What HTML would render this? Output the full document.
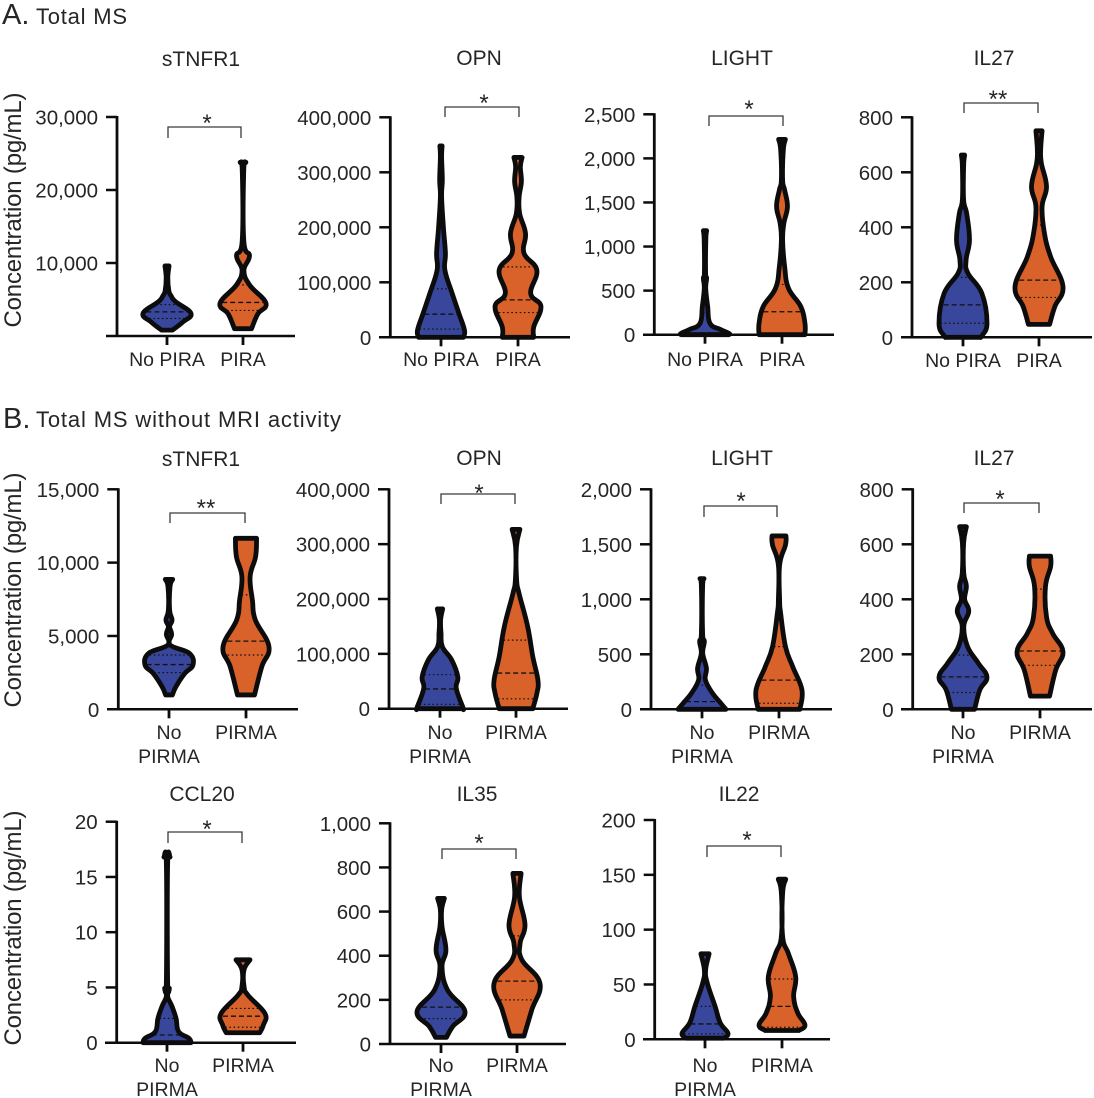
<!DOCTYPE html>
<html lang="en">
<head>
<meta charset="utf-8">
<title>Violin plots of serum biomarkers in total MS</title>
<style>
html,body{margin:0;padding:0;background:#fff;}
svg{display:block;font-family:"Liberation Sans",sans-serif;fill:#262626;}
</style>
</head>
<body>
<svg id="figure" width="1094" height="1098" viewBox="0 0 1094 1098" xmlns="http://www.w3.org/2000/svg">
  <rect width="1094" height="1098" fill="#fff"/>
  <text x="2" y="24" font-size="29">A.</text>
  <text x="36" y="24" font-size="22" textLength="91">Total MS</text>
  <text x="3" y="428" font-size="29">B.</text>
  <text x="36" y="427" font-size="22" textLength="305">Total MS without MRI activity</text>
  <text transform="translate(21,210) rotate(-90)" text-anchor="middle" font-size="24" textLength="235">Concentration (pg/mL)</text>
  <text transform="translate(21,590) rotate(-90)" text-anchor="middle" font-size="24" textLength="235">Concentration (pg/mL)</text>
  <text transform="translate(21,928) rotate(-90)" text-anchor="middle" font-size="24" textLength="235">Concentration (pg/mL)</text>
</svg>
<script>
// ---------- DATA: tick labels, violin profile (value, density), quartiles [Q1, median, Q3] ----------
const a1Ticks = ['10,000','20,000','30,000'];
const a1NoValues = [9600,8000,6200,5500,4700,3100,1900,800];
const a1NoDensity = [1.7,0.5,1.5,3.7,8,23,15,5];
const a1NoQuartiles = [2400,3300,4300];
const a1YesValues = [23800,22500,13000,11000,9000,7000,4500,3000,1000];
const a1YesDensity = [2.5,0.4,0.5,6,0.6,6,22,14,8];
const a1YesQuartiles = [3500,4600,7000];

const a2Ticks = ['0','100,000','200,000','300,000','400,000'];
const a2NoValues = [348000,328000,286000,256000,201000,153000,122000,80000,44000,13000,0];
const a2NoDensity = [0.8,0.3,1,0.3,2,4,3.5,10.5,17,22.5,21.5];
const a2NoQuartiles = [15000,42000,88000];
const a2YesValues = [327000,310000,283000,255000,225000,189000,153000,122000,80000,56000,19000,0];
const a2YesDensity = [3.7,2,3,0.8,1.3,7,5.5,18,12,22,15,15];
const a2YesQuartiles = [45000,68000,128000];

const a3Ticks = ['0','500','1,000','1,500','2,000','2,500'];
const a3NoValues = [1180,1074,696,640,526,318,129,60,15,0];
const a3NoDensity = [1.3,0.5,0.3,1.3,0.4,2.3,4.5,14.5,23,23];
const a3NoQuartiles = [5,20,250];
const a3YesValues = [2216,2095,1755,1640,1452,1263,1074,771,526,318,129,0];
const a3YesDensity = [3,1,0.3,2.3,5,1.5,0.3,2.3,6,18,22,22];
const a3YesQuartiles = [20,260,570];

const a4Ticks = ['0','200','400','600','800'];
const a4NoValues = [663,620,500,450,354,281,233,160,51,5,0];
const a4NoDensity = [1.3,0.3,0.3,3.3,6,2.7,4.5,18,23,18,16];
const a4NoQuartiles = [51,118,218];
const a4YesValues = [751,681,633,548,475,378,293,184,111,47];
const a4YesDensity = [2.7,1.3,2,7,2.7,5,11,23,15,10];
const a4YesQuartiles = [145,208,408];

const b1Ticks = ['0','5,000','10,000','15,000'];
const b1NoValues = [8860,8360,6770,6090,5640,5110,4390,3820,3020,2450,1550,980];
const b1NoDensity = [3.3,0.7,0.3,2.7,0.3,2.3,0.7,19.5,23,15,6.5,3];
const b1NoQuartiles = [2500,3050,3700];
const b1YesValues = [11660,10400,9050,7400,6100,4270,2900,980];
const b1YesDensity = [10,9,3.7,6,8.7,22,15,8];
const b1YesQuartiles = [3700,4650,7800];

const b2Ticks = ['0','100,000','200,000','300,000','400,000'];
const b2NoValues = [182000,162000,137000,113000,89000,58000,37000,2000,0];
const b2NoDensity = [2.3,0.3,0.7,2,11,17,15.5,22,22];
const b2NoQuartiles = [8000,36000,62000];
const b2YesValues = [327000,295000,235000,210000,150000,95000,52000,28000,0];
const b2YesDensity = [3.5,0.1,0.3,2.7,11,16,21,20,16];
const b2YesQuartiles = [18000,65000,125000];

const b3Ticks = ['0','500','1,000','1,500','2,000'];
const b3NoValues = [1188,1115,690,615,509,373,267,145,55,0];
const b3NoDensity = [1.7,0.3,0.3,2,0.4,4,3,10,18,23];
const b3NoQuartiles = [6,70,220];
const b3YesValues = [1576,1494,1312,994,873,570,388,176,0];
const b3YesDensity = [6.5,6,0.3,0.3,1.3,6,13,22,20];
const b3YesQuartiles = [55,265,570];

const b4Ticks = ['0','200','400','600','800'];
const b4NoValues = [664,605,496,448,400,357,302,229,168,117,70,0];
const b4NoDensity = [3,0.3,0.4,3,1.3,5.3,0.5,4,14.5,23,16,11];
const b4NoQuartiles = [61,118,197];
const b4YesValues = [557,519,446,337,276,210,143,48];
const b4YesDensity = [10,10,5,6,12,22,15,9];
const b4YesQuartiles = [160,212,437];

const c1Ticks = ['0','5','10','15','20'];
const c1NoValues = [16.8,16.1,5.7,4.9,4.2,3.3,2.2,1,0.4,0];
const c1NoDensity = [2.7,0.3,0.3,2,0.3,4.5,8.5,11,21,23];
const c1NoQuartiles = [0.05,0.7,2.2];
const c1YesValues = [7.5,6.6,5.1,4.3,2.65,1.6,0.9];
const c1YesDensity = [6.5,0.7,0.7,4.5,21,19.5,16];
const c1YesQuartiles = [1.4,2.4,3.1];

const c2Ticks = ['0','200','400','600','800','1,000'];
const c2NoValues = [660,607,532,426,350,245,147,79,30];
const c2NoDensity = [3,0.3,0.7,4.5,0.7,6,23,11,5];
const c2NoQuartiles = [115,167,297];
const c2YesValues = [773,668,539,456,381,275,154,36];
const c2YesDensity = [3.7,2,7.5,2.7,4.5,22,14,6.5];
const c2YesQuartiles = [200,285,490];

const c3Ticks = ['0','50','100','150','200'];
const c3NoValues = [78,63,51,30,15,5.5,1];
const c3NoDensity = [3.7,0.3,2,9.5,14.5,22,18];
const c3NoQuartiles = [5,14,30];
const c3YesValues = [146,133,94,78,57,39,24,13,8];
const c3YesDensity = [3.3,0.3,0.3,6,13,11,15,22,16];
const c3YesQuartiles = [11,30,55];

const groupLabelsA = [['No PIRA'],['PIRA']];
const groupLabelsB = [['No','PIRMA'],['PIRMA']];
const panelTitles = ['sTNFR1','OPN','LIGHT','IL27','sTNFR1','OPN','LIGHT','IL27','CCL20','IL35','IL22'];
const significance = ['*','*','*','**','**','*','*','*','*','*','*'];

// ---------- LAYOUT (pixel frames for each panel, separate from data) ----------
const frames = [
 {id:'a1',ax:117,top:117,bot:336,xs:106,xe:295,c0:167,c1:243,tx:201,ty:66,bx0:168,bx1:241,bt:127,bb:138,sx:207,sy:117,ly:366},
 {id:'a2',ax:390.3,top:117.3,bot:337.3,xs:379,xe:570,c0:441,c1:518,tx:479,ty:65,bx0:445,bx1:519,bt:107,bb:117,sx:484,sy:97,ly:366},
 {id:'a3',ax:654.3,top:114.3,bot:334.7,xs:643,xe:834,c0:705,c1:782,tx:742,ty:65,bx0:709,bx1:783,bt:116,bb:126,sx:749,sy:103,ly:366},
 {id:'a4',ax:912,top:117.3,bot:337.3,xs:901,xe:1092,c0:963,c1:1039,tx:994,ty:65,bx0:964,bx1:1038,bt:103,bb:113,sx:998,sy:93,ly:367},
 {id:'b1',ax:118.3,top:489.3,bot:709.3,xs:107,xe:298,c0:169,c1:246,tx:201,ty:466,bx0:170,bx1:245,bt:513,bb:523,sx:206,sy:502,ly:739},
 {id:'b2',ax:389,top:489.3,bot:708.7,xs:378,xe:568,c0:440,c1:516,tx:479,ty:465,bx0:441,bx1:515,bt:494,bb:504,sx:479,sy:487,ly:739},
 {id:'b3',ax:651,top:489.3,bot:709.3,xs:640,xe:832,c0:702,c1:779,tx:742,ty:465,bx0:704,bx1:777,bt:506,bb:517,sx:741,sy:495,ly:739},
 {id:'b4',ax:912.7,top:489.3,bot:709.3,xs:901,xe:1092,c0:963,c1:1040,tx:994,ty:465,bx0:964,bx1:1039,bt:503,bb:513,sx:1000,sy:493,ly:739},
 {id:'c1',ax:116.7,top:821.7,bot:1042.7,xs:105,xe:296,c0:167,c1:243,tx:202,ty:801,bx0:168,bx1:242,bt:832,bb:843,sx:207,sy:823,ly:1072},
 {id:'c2',ax:390,top:823.3,bot:1044,xs:379,xe:566,c0:441,c1:517,tx:477,ty:801,bx0:442,bx1:516,bt:849,bb:859,sx:479,sy:837,ly:1072},
 {id:'c3',ax:654.7,top:820,bot:1039.3,xs:643,xe:830,c0:705,c1:782,tx:739,ty:801,bx0:707,bx1:781,bt:846,bb:857,sx:747,sy:834,ly:1072}
];
const panelSeries = [
 [a1Ticks,a1NoValues,a1NoDensity,a1NoQuartiles,a1YesValues,a1YesDensity,a1YesQuartiles],
 [a2Ticks,a2NoValues,a2NoDensity,a2NoQuartiles,a2YesValues,a2YesDensity,a2YesQuartiles],
 [a3Ticks,a3NoValues,a3NoDensity,a3NoQuartiles,a3YesValues,a3YesDensity,a3YesQuartiles],
 [a4Ticks,a4NoValues,a4NoDensity,a4NoQuartiles,a4YesValues,a4YesDensity,a4YesQuartiles],
 [b1Ticks,b1NoValues,b1NoDensity,b1NoQuartiles,b1YesValues,b1YesDensity,b1YesQuartiles],
 [b2Ticks,b2NoValues,b2NoDensity,b2NoQuartiles,b2YesValues,b2YesDensity,b2YesQuartiles],
 [b3Ticks,b3NoValues,b3NoDensity,b3NoQuartiles,b3YesValues,b3YesDensity,b3YesQuartiles],
 [b4Ticks,b4NoValues,b4NoDensity,b4NoQuartiles,b4YesValues,b4YesDensity,b4YesQuartiles],
 [c1Ticks,c1NoValues,c1NoDensity,c1NoQuartiles,c1YesValues,c1YesDensity,c1YesQuartiles],
 [c2Ticks,c2NoValues,c2NoDensity,c2NoQuartiles,c2YesValues,c2YesDensity,c2YesQuartiles],
 [c3Ticks,c3NoValues,c3NoDensity,c3NoQuartiles,c3YesValues,c3YesDensity,c3YesQuartiles]
];

const BLUE = '#38479c';
const ORANGE = '#d9622a';
const INK = '#0c0c0c';
const svg = document.getElementById('figure');
const NS = 'http://www.w3.org/2000/svg';

function make(tag, attrs, parent, text) {
  const el = document.createElementNS(NS, tag);
  for (const k in attrs) el.setAttribute(k, attrs[k]);
  if (text !== undefined) el.textContent = text;
  parent.appendChild(el);
  return el;
}
function tickNumber(label) {
  return parseFloat(label.replace(/,/g, ''));
}
function widthScale(d) {
  return d * 1.03 + 0.3;
}
function smoothSide(points) {
  let d = '';
  for (let i = 0; i < points.length - 1; i++) {
    const p0 = points[Math.max(i - 1, 0)];
    const p1 = points[i];
    const p2 = points[i + 1];
    const p3 = points[Math.min(i + 2, points.length - 1)];
    const t = 5;
    const c1 = [p1[0] + (p2[0] - p0[0]) / t, p1[1] + (p2[1] - p0[1]) / t];
    const c2 = [p2[0] - (p3[0] - p1[0]) / t, p2[1] - (p3[1] - p1[1]) / t];
    d += 'C' + c1[0].toFixed(2) + ' ' + c1[1].toFixed(2) + ' ' + c2[0].toFixed(2) + ' ' + c2[1].toFixed(2) + ' ' + p2[0].toFixed(2) + ' ' + p2[1].toFixed(2);
  }
  return d;
}
function densityAt(values, density, v) {
  for (let i = 0; i < values.length - 1; i++) {
    if (v <= values[i] && v >= values[i + 1]) {
      const f = (values[i] - v) / ((values[i] - values[i + 1]) || 1);
      return density[i] + f * (density[i + 1] - density[i]);
    }
  }
  return density[density.length - 1];
}
function drawViolin(g, name, cx, yScale, values, density, quartiles, color) {
  const left = values.map((v, i) => [cx - widthScale(density[i]), yScale(v)]);
  const right = values.map((v, i) => [cx + widthScale(density[i]), yScale(v)]).reverse();
  const d = 'M' + right[right.length - 1][0].toFixed(2) + ' ' + right[right.length - 1][1].toFixed(2)
    + 'L' + left[0][0].toFixed(2) + ' ' + left[0][1].toFixed(2)
    + smoothSide(left)
    + 'L' + right[0][0].toFixed(2) + ' ' + right[0][1].toFixed(2)
    + smoothSide(right) + 'Z';
  const fill = make('path', {d: d, fill: color, stroke: 'none'}, g);
  
  
  quartiles.forEach((q, i) => {
    const hw = Math.max(widthScale(densityAt(values, density, q)) - 1.5, 0);
    const isMedian = i === 1;
    const line = make('line', {
      x1: cx - hw, x2: cx + hw, y1: yScale(q), y2: yScale(q),
      stroke: '#111', 'stroke-width': isMedian ? 1.3 : 1.2,
      'stroke-dasharray': isMedian ? '5 3' : '1.6 2.6'
    }, g);
    
    
  });
  const outline = make('path', {d: d, fill: 'none', stroke: INK, 'stroke-width': 4.8, 'stroke-linejoin': 'round'}, g);
  
  
}

frames.forEach((f, idx) => {
  const s = panelSeries[idx];
  const ticks = s[0];
  const yMax = tickNumber(ticks[ticks.length - 1]);
  const yScale = v => f.bot - (v / yMax) * (f.bot - f.top);
  const g = make('g', {}, svg);
  
  

  const title = make('text', {x: f.tx, y: f.ty, 'text-anchor': 'middle', 'font-size': 21}, g, panelTitles[idx]);
  
  

  drawViolin(g, f.id + '-no-group', f.c0, yScale, s[1], s[2], s[3], BLUE);
  drawViolin(g, f.id + '-yes-group', f.c1, yScale, s[4], s[5], s[6], ORANGE);

  const yAxis = make('line', {x1: f.ax, x2: f.ax, y1: f.top - 1, y2: f.bot + 1, stroke: INK, 'stroke-width': 2.8}, g);
  
  
  const xAxis = make('line', {x1: f.xs, x2: f.xe, y1: f.bot, y2: f.bot, stroke: INK, 'stroke-width': 2.5}, g);
  
  

  ticks.forEach(label => {
    const y = yScale(tickNumber(label));
    if (tickNumber(label) !== 0) {
      const mark = make('line', {x1: f.ax - 11, x2: f.ax, y1: y, y2: y, stroke: INK, 'stroke-width': 2.5}, g);
      
      
    }
    const t = make('text', {x: f.ax - 19, y: y + 7.5, 'text-anchor': 'end', 'font-size': 20.5}, g, label);
    
    
  });

  const labels = f.id[0] === 'a' ? groupLabelsA : groupLabelsB;
  [f.c0, f.c1].forEach((cx, gi) => {
    const mark = make('line', {x1: cx, x2: cx, y1: f.bot, y2: f.bot + 9, stroke: INK, 'stroke-width': 2.8}, g);
    
    
    labels[gi].forEach((line, li) => {
      const t = make('text', {x: cx, y: f.ly + li * 24, 'text-anchor': 'middle', 'font-size': 19.5}, g, line);
      
      
    });
  });

  const bracket = make('path', {
    d: 'M' + f.bx0 + ' ' + f.bb + 'V' + f.bt + 'H' + f.bx1 + 'V' + f.bb,
    fill: 'none', stroke: '#3a3a3a', 'stroke-width': 1.3
  }, g);
  
  
  const star = make('text', {x: f.sx, y: f.sy + 14, 'text-anchor': 'middle', 'font-size': 24}, g, significance[idx]);
  
  
});
</script>
</body>
</html>
